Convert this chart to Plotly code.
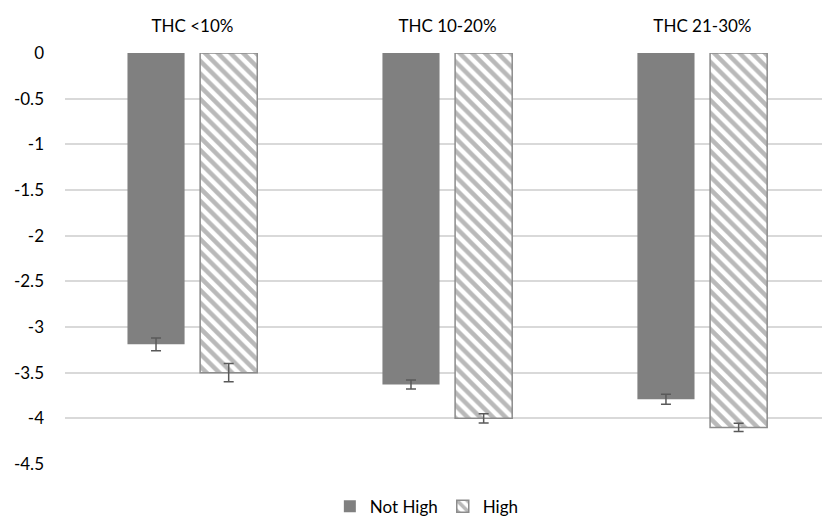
import plotly.graph_objects as go

categories = ["THC <10%", "THC 10-20%", "THC 21-30%"]
not_high = [-3.19, -3.63, -3.79]
not_high_err = [0.07, 0.05, 0.055]
high = [-3.5, -4.0, -4.1]
high_err = [0.1, 0.05, 0.045]
y_ticks = [0, -0.5, -1, -1.5, -2, -2.5, -3, -3.5, -4, -4.5]

xpos = list(range(len(categories)))

fig = go.Figure()
fig.add_trace(go.Bar(
    x=xpos, y=not_high, name="Not High",
    width=0.224, offset=-0.255,
    marker=dict(color="#808080", line=dict(width=0)),
    error_y=dict(type="data", array=not_high_err, color="#595959", thickness=1.5, width=5),
))
fig.add_trace(go.Bar(
    x=xpos, y=high, name="High",
    width=0.224, offset=0.03,
    marker=dict(color="white", line=dict(color="#8c8c8c", width=1.5),
                pattern=dict(shape="\\", fgcolor="#737373", bgcolor="white", size=9, solidity=0.5)),
    error_y=dict(type="data", array=high_err, color="#595959", thickness=1.5, width=5),
))

fig.update_layout(
    width=822, height=516,
    margin=dict(l=65, r=0, t=53, b=52, autoexpand=False),
    paper_bgcolor="white", plot_bgcolor="white",
    barmode="overlay",
    font=dict(family="Lato, Open Sans, sans-serif", size=17, color="#000000"),
    showlegend=True,
    legend=dict(orientation="h", x=0.478, xanchor="center", y=-0.06, yanchor="top",
                font=dict(size=17), traceorder="normal", itemwidth=30),
    xaxis=dict(side="top", tickmode="array", tickvals=xpos, ticktext=categories,
               range=[-0.5, 2.469], showgrid=False, zeroline=False, showline=False,
               ticks="", tickfont=dict(size=17), automargin=False, ticklabelstandoff=17),
    yaxis=dict(range=[-4.5, 0], tickmode="array", tickvals=y_ticks,
               ticktext=[str(v) for v in y_ticks],
               showgrid=True, gridcolor="#d9d9d9", gridwidth=1.5,
               zeroline=False, showline=False, ticks="", ticklabelstandoff=20,
               automargin=False),
)

fig.write_html("out.html", config={"displayModeBar": False},
               post_script="document.body.style.margin='0';")
